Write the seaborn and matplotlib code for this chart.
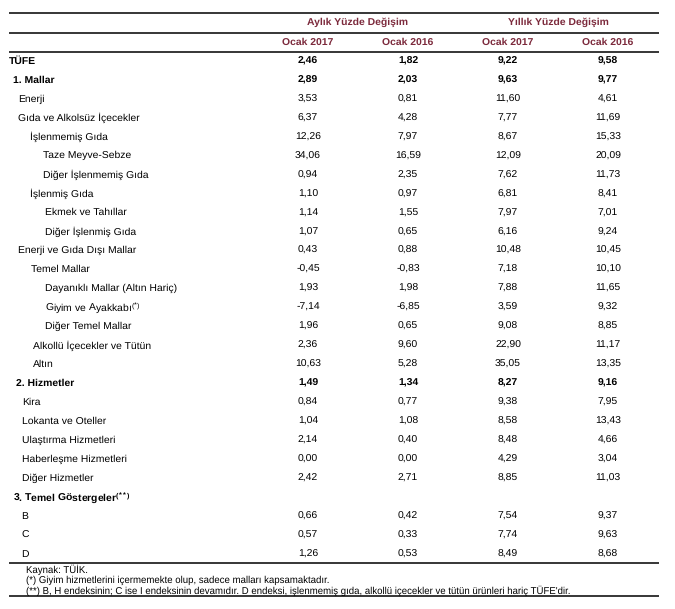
import numpy as np
import pandas as pd
import matplotlib
matplotlib.use("Agg")
import matplotlib.pyplot as plt
import matplotlib.transforms as mtrans
from matplotlib.colors import ListedColormap
import seaborn as sns

# Table content
labels = ["TÜFE", "1. Mallar", "Enerji", "Gıda ve Alkolsüz İçecekler", "İşlenmemiş Gıda",
          "Taze Meyve-Sebze", "Diğer İşlenmemiş Gıda", "İşlenmiş Gıda", "Ekmek ve Tahıllar",
          "Diğer İşlenmiş Gıda", "Enerji ve Gıda Dışı Mallar", "Temel Mallar",
          "Dayanıklı Mallar (Altın Hariç)", "Giyim ve Ayakkabı$^{(*)}$", "Diğer Temel Mallar",
          "Alkollü İçecekler ve Tütün", "Altın", "2. Hizmetler", "Kira", "Lokanta ve Oteller",
          "Ulaştırma Hizmetleri", "Haberleşme Hizmetleri", "Diğer Hizmetler",
          "3. Temel Göstergeler$^{(**)}$", "B", "C", "D"]
aylik_2017 = [2.46, 2.89, 3.53, 6.37, 12.26, 34.06, 0.94, 1.10, 1.14, 1.07, 0.43, -0.45, 1.93,
              -7.14, 1.96, 2.36, 10.63, 1.49, 0.84, 1.04, 2.14, 0.00, 2.42, np.nan, 0.66, 0.57, 1.26]
aylik_2016 = [1.82, 2.03, 0.81, 4.28, 7.97, 16.59, 2.35, 0.97, 1.55, 0.65, 0.88, -0.83, 1.98,
              -6.85, 0.65, 9.60, 5.28, 1.34, 0.77, 1.08, 0.40, 0.00, 2.71, np.nan, 0.42, 0.33, 0.53]
yillik_2017 = [9.22, 9.63, 11.60, 7.77, 8.67, 12.09, 7.62, 6.81, 7.97, 6.16, 10.48, 7.18, 7.88,
               3.59, 9.08, 22.90, 35.05, 8.27, 9.38, 8.58, 8.48, 4.29, 8.85, np.nan, 7.54, 7.74, 8.49]
yillik_2016 = [9.58, 9.77, 4.61, 11.69, 15.33, 20.09, 11.73, 8.41, 7.01, 9.24, 10.45, 10.10, 11.65,
               9.32, 8.85, 11.17, 13.35, 9.16, 7.95, 13.43, 4.66, 3.04, 11.03, np.nan, 9.37, 9.63, 8.68]
col_titles = ["Ocak 2017", "Ocak 2016", "Ocak 2017", "Ocak 2016"]
group_titles = ["Aylık Yüzde Değişim", "Yıllık Yüzde Değişim"]
bold_rows = ["TÜFE", "1. Mallar", "2. Hizmetler", "3. Temel Göstergeler$^{(**)}$"]
notes = ["Kaynak: TÜİK.",
         "(*) Giyim hizmetlerini içermemekte olup, sadece malları kapsamaktadır.",
         "(**) B, H endeksinin; C ise I endeksinin devamıdır. D endeksi, işlenmemiş gıda, "
         "alkollü içecekler ve tütün ürünleri hariç TÜFE'dir."]

# label indentation in pixels
indent = [9, 13, 18, 18, 30, 43, 43, 30, 45, 45, 18, 31, 45, 45, 45, 33, 33, 16,
          22, 22, 22, 22, 22, 13, 21, 21, 21]

sns.set_style("white")
plt.rcParams['font.family'] = ['Liberation Sans', 'DejaVu Sans']
plt.rcParams['mathtext.default'] = 'regular'
plt.rcParams['text.hinting'] = 'no_hinting'

df = pd.DataFrame({"a17": aylik_2017, "a16": aylik_2016, "y17": yillik_2017, "y16": yillik_2016},
                  index=labels)
annot = df.map(lambda v: "" if pd.isna(v) else f"{v:.2f}".replace(".", ","))

W, H = 675, 609
fig = plt.figure(figsize=(W / 100, H / 100), dpi=100)

top, bottom = 51.5, 563.5
left, right = 258, 658
hm = fig.add_axes([left / W, 1 - bottom / H, (right - left) / W, (bottom - top) / H])
sns.heatmap(df, ax=hm, cmap=ListedColormap(["white"]), cbar=False, annot=annot.values, fmt="",
            annot_kws={"fontsize": 7.5, "color": "black"}, xticklabels=False, yticklabels=False)
hm.axis("off")

# overlay axes in pixel units for rules and notes
bg = fig.add_axes([0, 0, 1, 1])
bg.set_xlim(0, W)
bg.set_ylim(H, 0)
bg.axis("off")
bg.set_zorder(5)

for t in hm.texts:
    row = int(t.get_position()[1])
    if labels[row] in bold_rows:
        t.set_fontweight("bold")

# row labels
tr = mtrans.blended_transform_factory(bg.transData, hm.transData)
for i, lab in enumerate(labels):
    hm.text(indent[i], i + 0.5, lab, transform=tr, ha="left", va="center", fontsize=7.5,
            fontweight="bold" if lab in bold_rows else "normal", color="black")

# headers
head_color = "#7c2a3c"
for j, ct in enumerate(col_titles):
    hm.text(j + 0.5, -0.5, ct, ha="center", va="center", fontsize=7.5, fontweight="bold",
            color=head_color)
for g, gt in enumerate(group_titles):
    hm.text(2 * g + 1, -1.56, gt, ha="center", va="center", fontsize=7.5, fontweight="bold",
            color=head_color)

# rules
for y in [13, 33, 52, 563, 596]:
    bg.plot([9, 659], [y, y], color="black", lw=1.1, solid_capstyle="butt")

for k, note in enumerate(notes):
    bg.text(26, 570 + 10.5 * k, note, ha="left", va="center", fontsize=6.9, color="black")

fig.savefig("out.png", dpi=100)
